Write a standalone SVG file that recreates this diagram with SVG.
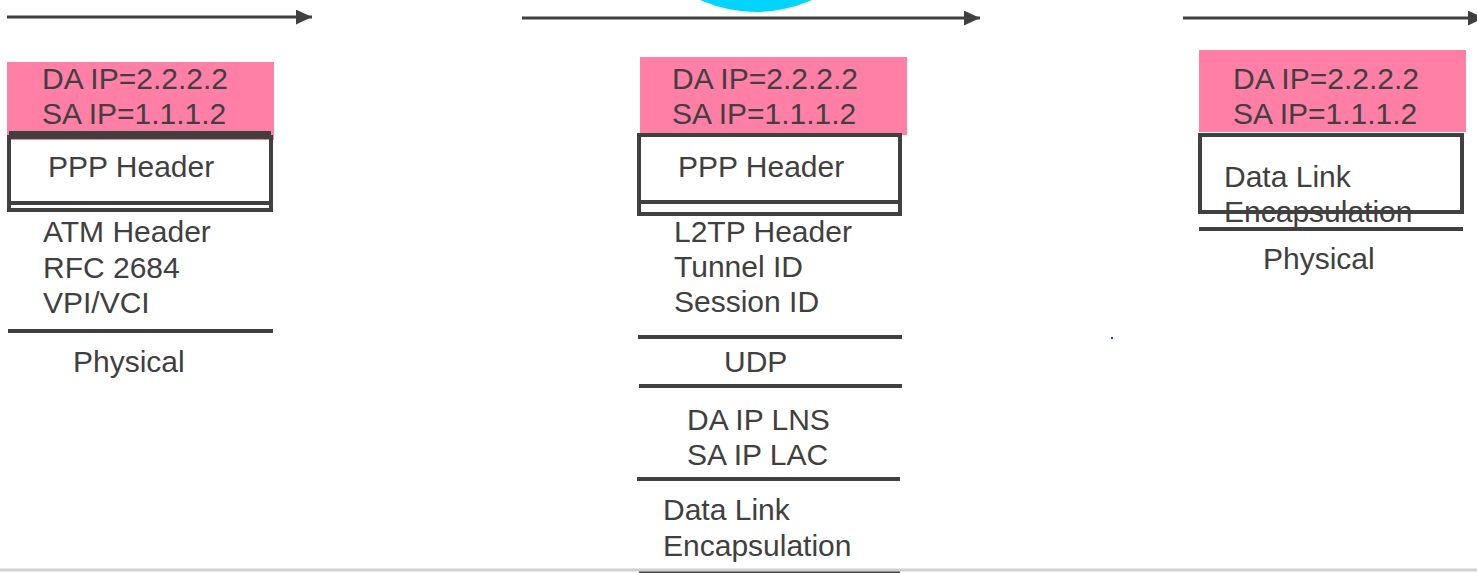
<svg xmlns="http://www.w3.org/2000/svg" width="1477" height="573" viewBox="0 0 1477 573">
  <style>
    .t { font-family: "Liberation Sans", Arial, sans-serif; font-size: 30px; fill: #404040; }
    .pink { fill: #FF7FA7; stroke: none; }
    .box { fill: none; stroke: #404040; stroke-width: 4; }
    .ln { stroke: #404040; stroke-width: 4; fill: none; }
    .arr { stroke: #404040; stroke-width: 3; fill: none; marker-end: url(#ah); }
  </style>
  <defs>
    <marker id="ah" markerWidth="6" markerHeight="5" refX="5.4" refY="2.5" orient="auto" markerUnits="strokeWidth">
      <path d="M0,0 L5.4,2.5 L0,5 Z" fill="#404040"/>
    </marker>
  </defs>
  <rect width="1477" height="573" fill="#ffffff"/>

  <g id="cloud">
    <ellipse cx="756" cy="-125" rx="137" ry="137" fill="#00D4FF"/>
  </g>

  <g id="connectors">
    <line class="arr" x1="7" y1="17" x2="312" y2="17"/>
    <line class="arr" x1="522" y1="18" x2="980" y2="18"/>
    <line class="arr" x1="1183" y1="18" x2="1484" y2="18"/>
  </g>

  <g id="stack-left">
    <rect class="pink" x="7" y="62" width="267" height="78"/>
    <text class="t" x="42" y="89">DA IP=2.2.2.2</text>
    <text class="t" x="42" y="124">SA IP=1.1.1.2</text>
    <line class="ln" x1="9" y1="133" x2="271" y2="133"/>
    <rect class="box" x="9" y="137" width="262" height="73"/>
    <line class="ln" x1="9" y1="203" x2="271" y2="203"/>
    <text class="t" x="48" y="177">PPP Header</text>
    <text class="t" x="43" y="242">ATM Header</text>
    <text class="t" x="43" y="278">RFC 2684</text>
    <text class="t" x="43" y="313">VPI/VCI</text>
    <line class="ln" x1="8" y1="331" x2="273" y2="331"/>
    <text class="t" x="73" y="372">Physical</text>
  </g>

  <g id="stack-middle">
    <rect class="pink" x="640" y="57" width="267" height="78"/>
    <text class="t" x="672" y="89">DA IP=2.2.2.2</text>
    <text class="t" x="672" y="124">SA IP=1.1.1.2</text>
    <rect class="box" x="639" y="135" width="261" height="79"/>
    <line class="ln" x1="639" y1="202" x2="900" y2="202"/>
    <text class="t" x="678" y="177">PPP Header</text>
    <text class="t" x="674" y="242">L2TP Header</text>
    <text class="t" x="674" y="277">Tunnel ID</text>
    <text class="t" x="674" y="312">Session ID</text>
    <line class="ln" x1="638" y1="337" x2="902" y2="337"/>
    <text class="t" x="724" y="372">UDP</text>
    <line class="ln" x1="639" y1="386" x2="902" y2="386"/>
    <text class="t" x="687" y="430">DA IP LNS</text>
    <text class="t" x="687" y="465">SA IP LAC</text>
    <line class="ln" x1="637" y1="479" x2="900" y2="479"/>
    <text class="t" x="663" y="520">Data Link</text>
    <text class="t" x="663" y="556">Encapsulation</text>
  </g>

  <g id="stack-right">
    <rect class="pink" x="1199" y="50" width="267" height="82"/>
    <text class="t" x="1233" y="89">DA IP=2.2.2.2</text>
    <text class="t" x="1233" y="124">SA IP=1.1.1.2</text>
    <rect class="box" x="1200" y="135" width="262" height="77"/>
    <text class="t" x="1224" y="187">Data Link</text>
    <text class="t" x="1224" y="222">Encapsulation</text>
    <line class="ln" x1="1199" y1="229" x2="1463" y2="229"/>
    <text class="t" x="1263" y="269">Physical</text>
  </g>

  <rect x="1111" y="337" width="2" height="2" fill="#0060C0"/>

  <g id="footer">
    <line x1="0" y1="570" x2="1477" y2="570" stroke="#D0D0D0" stroke-width="3"/>
    <line x1="639" y1="572.5" x2="900" y2="572.5" stroke="#404040" stroke-width="2"/>
  </g>
</svg>
